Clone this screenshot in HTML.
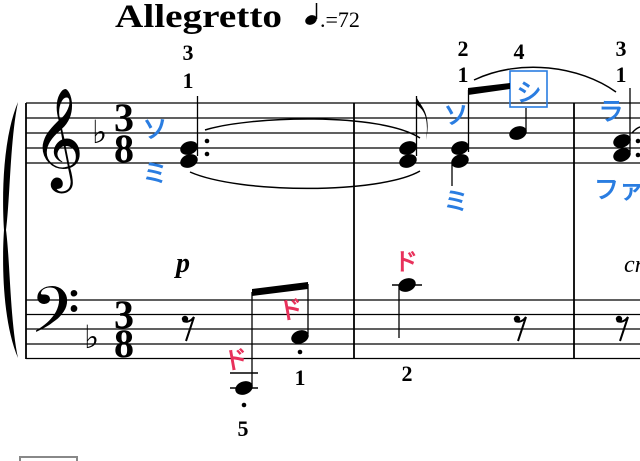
<!DOCTYPE html>
<html><head><meta charset="utf-8"><style>
html,body{margin:0;padding:0;background:#fff;width:640px;height:461px;overflow:hidden}
svg text{font-family:"Liberation Serif",serif}
.k{font-family:"Liberation Sans","Noto Sans CJK JP",sans-serif;font-weight:bold}
</style></head><body>
<svg width="640" height="461" viewBox="0 0 640 461" xmlns="http://www.w3.org/2000/svg">
<defs>
<g id="rest"><circle cx="0" cy="0" r="3.2"/><path d="M-2 2 C2 4 6 2 9 -2 L1 22" fill="none" stroke="#000" stroke-width="2"/></g>
</defs>
<text x="115" y="27" font-size="33" font-weight="bold" textLength="167" lengthAdjust="spacingAndGlyphs">Allegretto</text>
<ellipse cx="311" cy="20" rx="6" ry="4.5" transform="rotate(-25 311 20)"/>
<line x1="316.5" y1="19" x2="316.5" y2="3" stroke="#000" stroke-width="1.5"/>
<text x="320" y="27" font-size="22">.=72</text>
<g stroke="#000" stroke-width="1.3">
<line x1="26" y1="103" x2="640" y2="103"/><line x1="26" y1="118" x2="640" y2="118"/><line x1="26" y1="133" x2="640" y2="133"/><line x1="26" y1="148" x2="640" y2="148"/><line x1="26" y1="163" x2="640" y2="163"/>
<line x1="26" y1="300" x2="640" y2="300"/><line x1="26" y1="314.5" x2="640" y2="314.5"/><line x1="26" y1="329" x2="640" y2="329"/><line x1="26" y1="344" x2="640" y2="344"/><line x1="26" y1="358.5" x2="640" y2="358.5"/>
<line x1="26" y1="103" x2="26" y2="359" stroke-width="1.8"/>
<line x1="354" y1="103" x2="354" y2="359" stroke-width="1.8"/>
<line x1="574" y1="103" x2="574" y2="359" stroke-width="1.8"/>
</g>
<path d="M18 102 C2 140 2 200 4 230 C2 260 2 320 18 358 C10 320 10 260 6 230 C10 200 10 140 18 102Z"/>
<text x="32" y="168" font-size="88" font-family="DejaVu Sans,serif">𝄞</text>
<text x="30" y="345" font-size="78" font-family="DejaVu Sans,serif">𝄢</text>
<text x="92" y="143" font-size="32" font-family="DejaVu Sans,serif">♭</text>
<text x="84" y="348" font-size="32" font-family="DejaVu Sans,serif">♭</text>
<g font-weight="bold" font-size="40" text-anchor="middle">
<text x="124" y="131">3</text><text x="124" y="162">8</text>
<text x="124" y="328">3</text><text x="124" y="357">8</text>
</g>
<g font-weight="bold" font-size="22" text-anchor="middle">
<text x="188" y="60">3</text><text x="188" y="88">1</text>
<text x="463" y="56">2</text><text x="463" y="82">1</text>
<text x="519" y="59">4</text>
<text x="621" y="56">3</text><text x="621" y="82">1</text>
<text x="243" y="436">5</text><text x="300" y="385">1</text><text x="407" y="381">2</text>
</g>
<g class="k" fill="#2a7de1" font-size="25" text-anchor="middle">
<text x="155" y="138">ソ</text><text x="155" y="182">ミ</text>
<text x="456" y="124">ソ</text><text x="456" y="210">ミ</text>
<text x="529" y="101">シ</text>
<text x="611" y="120">ラ</text><text x="619" y="198">ファ</text>
</g>
<rect x="510" y="71" width="37" height="36" fill="none" stroke="#2a7de1" stroke-width="1.6"/>
<g class="k" fill="#e8315b" font-size="24" text-anchor="middle">
<text x="406" y="270">ド</text>
<text x="236" y="368" transform="rotate(-10 236 360)">ド</text>
<text x="291" y="318" transform="rotate(-10 291 310)">ド</text>
</g>
<g>
<ellipse cx="189" cy="148" rx="9" ry="6.5" transform="rotate(-20 189 148)"/>
<ellipse cx="189" cy="161" rx="9" ry="6.5" transform="rotate(-20 189 161)"/>
<line x1="197.5" y1="96" x2="197.5" y2="156" stroke="#000" stroke-width="1.3"/>
<circle cx="207" cy="141" r="2.3"/><circle cx="207" cy="154" r="2.3"/>
<ellipse cx="408" cy="148" rx="9" ry="6.5" transform="rotate(-20 408 148)"/>
<ellipse cx="408" cy="161" rx="9" ry="6.5" transform="rotate(-20 408 161)"/>
<line x1="416.5" y1="96" x2="416.5" y2="156" stroke="#000" stroke-width="1.3"/>
<path d="M416 96 C420 106 432 112 426 140 C430 112 420 108 416 104Z"/>
<ellipse cx="460" cy="148" rx="9" ry="6.5" transform="rotate(-20 460 148)"/>
<ellipse cx="460" cy="161" rx="9" ry="6.5" transform="rotate(-20 460 161)"/>
<line x1="452" y1="163" x2="452" y2="186" stroke="#000" stroke-width="1.3"/>
<line x1="468.5" y1="90" x2="468.5" y2="152" stroke="#000" stroke-width="1.3"/>
<line x1="526" y1="108" x2="526" y2="131" stroke="#000" stroke-width="1.3"/>
<polygon points="468,88 510,83 510,89 468,95"/>
<ellipse cx="518" cy="133" rx="9" ry="6.5" transform="rotate(-20 518 133)"/>
<ellipse cx="622" cy="141" rx="9" ry="6.5" transform="rotate(-20 622 141)"/>
<ellipse cx="622" cy="155" rx="9" ry="6.5" transform="rotate(-20 622 155)"/>
<line x1="630" y1="88" x2="630" y2="152" stroke="#000" stroke-width="1.3"/>
<circle cx="638" cy="141" r="2.3"/><circle cx="638" cy="155" r="2.3"/>
</g>
<g fill="none" stroke="#000" stroke-width="1.5">
<path d="M205 130 C250 116 380 112 420 138"/>
<path d="M190 172 C240 194 380 194 420 171"/>
<path d="M474 80 C520 58 580 66 616 92"/>
<path d="M632 133 C636 128 640 127 640 127"/>
</g>
<text x="176" y="272" font-size="28" font-weight="bold" font-style="italic">p</text>
<text x="624" y="272" font-size="24" font-style="italic">cr</text>
<use href="#rest" x="185" y="319"/>
<use href="#rest" x="517" y="319"/>
<use href="#rest" x="619" y="319"/>
<g>
<line x1="230" y1="373" x2="258" y2="373" stroke="#000" stroke-width="1.6"/>
<line x1="230" y1="388" x2="258" y2="388" stroke="#000" stroke-width="1.6"/>
<ellipse cx="244" cy="388" rx="9" ry="6.5" transform="rotate(-20 244 388)"/>
<line x1="252" y1="292" x2="252" y2="386" stroke="#000" stroke-width="1.3"/>
<polygon points="252,289 308,282 308,289 252,296"/>
<ellipse cx="300" cy="337" rx="9" ry="6.5" transform="rotate(-20 300 337)"/>
<line x1="308" y1="284" x2="308" y2="334" stroke="#000" stroke-width="1.3"/>
<circle cx="244" cy="405" r="2.3"/><circle cx="300" cy="352" r="2.3"/>
<line x1="392" y1="285" x2="422" y2="285" stroke="#000" stroke-width="1.6"/>
<ellipse cx="407" cy="285" rx="9" ry="6.5" transform="rotate(-20 407 285)"/>
<line x1="399" y1="288" x2="399" y2="338" stroke="#000" stroke-width="1.3"/>
</g>
<path d="M20 461 L20 457 L77 457 L77 461" fill="none" stroke="#888" stroke-width="2"/>
</svg>
</body></html>
